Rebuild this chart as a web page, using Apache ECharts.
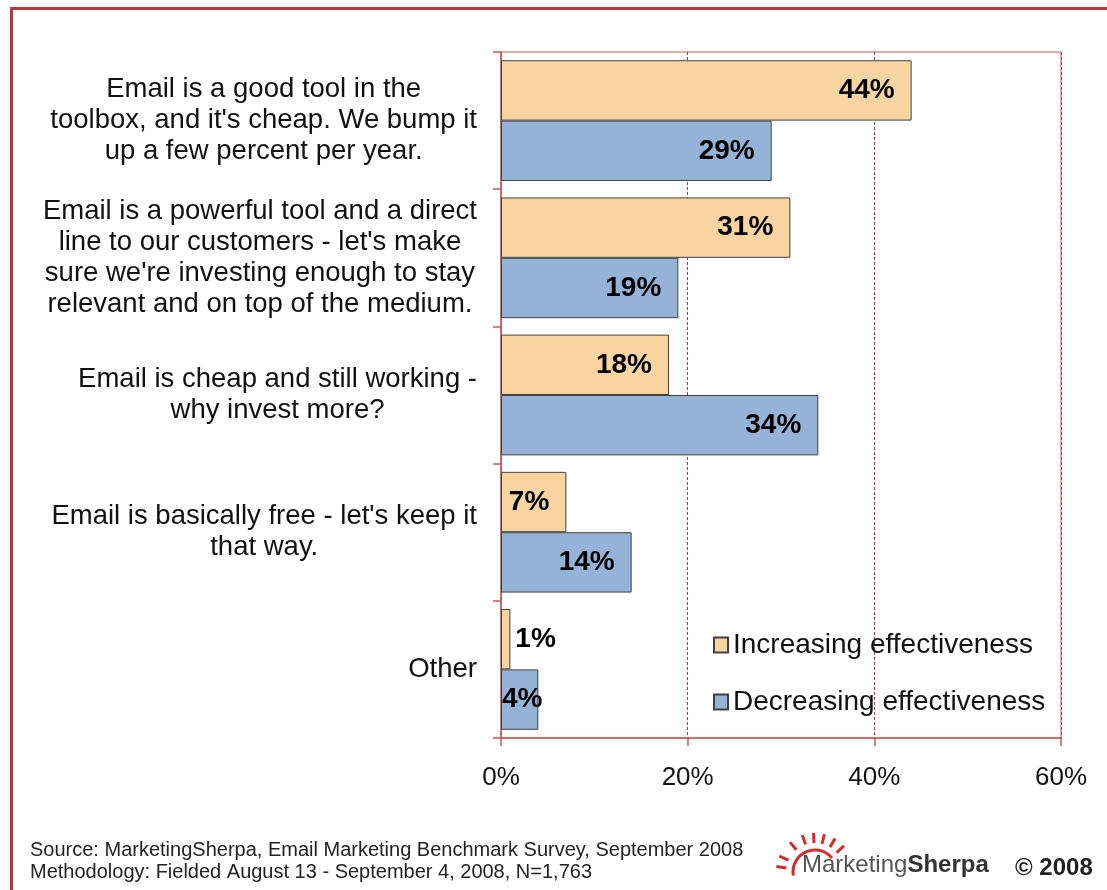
<!DOCTYPE html>
<html>
<head>
<meta charset="utf-8">
<script src="https://cdn.jsdelivr.net/npm/echarts@6/dist/echarts.min.js"></script>
<style>
  html, body { margin: 0; padding: 0; background: #ffffff; overflow: hidden; }
  #frame { position: absolute; left: 10px; top: 7px; width: 1300px; height: 1000px;
           border-left: 3px solid #B23A3A; border-top: 3px solid #B23A3A; }
  #chart { position: absolute; left: 0; top: 0; width: 1107px; height: 890px; }
</style>
</head>
<body>
<div id="frame"></div>
<div id="chart"></div>
<script>
const categories = [
  "Email is a good tool in the\ntoolbox, and it's cheap. We bump it\nup a few percent per year.",
  "Email is a powerful tool and a direct\nline to our customers - let's make\nsure we're investing enough to stay\nrelevant and on top of the medium.",
  "Email is cheap and still working -\nwhy invest more?",
  "Email is basically free - let's keep it\nthat way.",
  "Other"
];
const seriesNames = ["Increasing effectiveness", "Decreasing effectiveness"];
const increasing = [44, 31, 18, 7, 1];
const decreasing = [29, 19, 34, 14, 4];
const xTicks = [0, 20, 40, 60];

const FONT = "'Liberation Sans', Arial, 'DejaVu Sans', sans-serif";
const RED = '#C85858';

function withLabels(values) {
  return values.map(v => {
    if (v <= 2) return { value: v, label: { position: 'right', distance: 5 } };
    if (v < 6) return { value: v, label: { position: 'insideLeft', distance: 1 } };
    return v;
  });
}

const barLabel = {
  show: true,
  position: 'insideRight',
  distance: 17,
  formatter: '{c}%',
  fontFamily: FONT,
  fontWeight: 'bold',
  fontSize: 28,
  color: '#000'
};

// sun rays for logo (decorative)
const sunCx = 815, sunCy = 872;
const rays = [];
const rayAngles = [188, 204, 230, 251, 268, 284, 301, 318];
rayAngles.forEach(a => {
  const r = a * Math.PI / 180;
  rays.push({
    type: 'line',
    shape: { x1: sunCx + 29 * Math.cos(r), y1: sunCy + 29 * Math.sin(r),
             x2: sunCx + 39 * Math.cos(r), y2: sunCy + 39 * Math.sin(r) },
    style: { stroke: '#D42B2B', lineWidth: 3 }
  });
});

const chart = echarts.init(document.getElementById('chart'), null, { renderer: 'canvas' });
chart.setOption({
  backgroundColor: 'transparent',
  animation: false,
  textStyle: { fontFamily: FONT },
  grid: {
    left: 501, right: 46, top: 52, bottom: 152,
    show: true, borderColor: RED, borderWidth: 1, backgroundColor: 'transparent',
    containLabel: false
  },
  legend: {
    orient: 'vertical',
    left: 708, top: 626,
    itemWidth: 14, itemHeight: 15, itemGap: 29,
    icon: 'rect',
    data: seriesNames,
    textStyle: { fontFamily: FONT, fontSize: 28, color: '#111' }
  },
  xAxis: {
    type: 'value',
    min: xTicks[0], max: xTicks[xTicks.length - 1], interval: 20,
    axisLine: { show: true, lineStyle: { color: RED, width: 1.5 } },
    axisTick: { show: true, length: 8, lineStyle: { color: RED, width: 1.5 } },
    splitLine: { show: true, lineStyle: { color: '#C83030', type: [3, 2], width: 1 } },
    axisLabel: { formatter: '{value}%', fontFamily: FONT, fontSize: 26, color: '#111', margin: 27 }
  },
  yAxis: {
    type: 'category',
    inverse: true,
    data: categories,
    axisLine: { show: true, lineStyle: { color: RED, width: 1.5 } },
    axisTick: { show: true, length: 8, lineStyle: { color: RED, width: 1.5 } },
    splitLine: { show: false },
    axisLabel: {
      align: 'right',
      margin: 24,
      formatter: v => v.split('\n').map(l => '{c|' + l + '}').join('\n'),
      rich: {
        c: { align: 'center', fontFamily: FONT, fontSize: 27.5, lineHeight: 31, color: '#111' }
      }
    }
  },
  series: [
    {
      name: seriesNames[0], type: 'bar', data: withLabels(increasing),
      barGap: '0%', barCategoryGap: '12%',
      itemStyle: { color: '#F8D5A0', borderColor: '#404040', borderWidth: 1 },
      label: barLabel
    },
    {
      name: seriesNames[1], type: 'bar', data: withLabels(decreasing),
      barGap: '0%', barCategoryGap: '12%',
      itemStyle: { color: '#95B3D7', borderColor: '#404040', borderWidth: 1 },
      label: barLabel
    }
  ],
  graphic: [
    {
      type: 'text', left: 30, top: 839,
      style: {
        text: 'Source: MarketingSherpa, Email Marketing Benchmark Survey, September 2008\nMethodology: Fielded August 13 - September 4, 2008, N=1,763',
        font: '20px ' + FONT, lineHeight: 22, fill: '#222'
      }
    },
    {
      type: 'arc',
      shape: { cx: sunCx, cy: sunCy, r: 22, startAngle: Math.PI * 0.95, endAngle: Math.PI * 1.78, clockwise: true },
      style: { stroke: '#D42B2B', lineWidth: 3, fill: null }
    },
    ...rays,
    {
      type: 'text', left: 802, top: 853,
      style: {
        text: '{a|Marketing}{b|Sherpa}',
        rich: {
          a: { fontFamily: FONT, fontSize: 24, fill: '#555', color: '#555' },
          b: { fontFamily: FONT, fontSize: 24, fontWeight: 'bold', fill: '#333', color: '#333' }
        }
      }
    },
    {
      type: 'text', left: 1015, top: 856,
      style: { text: '\u00A9 2008', font: 'bold 24px ' + FONT, fill: '#222' }
    }
  ]
});
</script>
</body>
</html>
